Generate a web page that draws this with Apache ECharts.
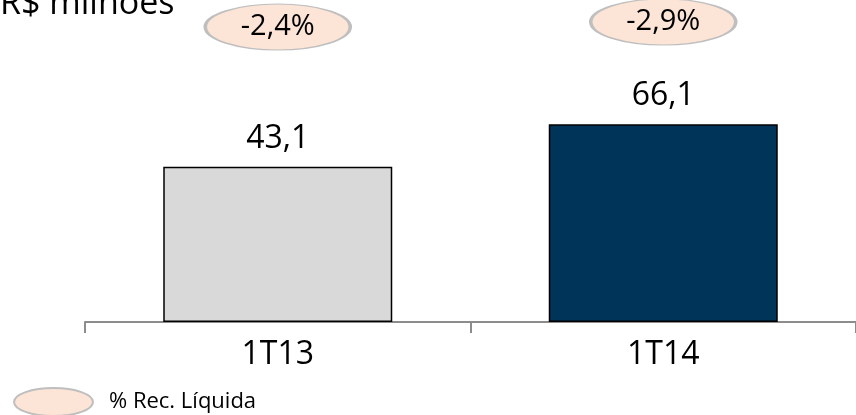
<!DOCTYPE html>
<html>
<head>
<meta charset="utf-8">
<script src="https://cdn.jsdelivr.net/npm/echarts@6/dist/echarts.min.js"></script>
<style>
  html, body { margin: 0; padding: 0; background: #fff; }
  #grafico { width: 856px; height: 415px; }
</style>
</head>
<body>
<div id="grafico"></div>
<script>
var periodos = ['1T13', '1T14'];
var valores = [43.1, 66.1];
var percRec = [-2.4, -2.9];
var corBarras = ['#D9D9D9', '#003458'];

function virgula(v, casas) {
    return v.toFixed(casas).replace('.', ',');
}

var elipse = 'path://M0,50 A100,50 0 1,1 200,50 A100,50 0 1,1 0,50 Z';
var elipseLegenda = 'path://M0,14 A39.5,14 0 1,1 79,14 A39.5,14 0 1,1 0,14 Z';
var grafico = echarts.init(document.getElementById('grafico'));

var option = {
    animation: false,
    textStyle: { fontFamily: 'Open Sans' },
    title: {
        text: 'R$ milhões',
        left: 0,
        top: -13,
        padding: 0,
        textStyle: { fontSize: 34, fontWeight: 'normal', color: '#000' }
    },
    legend: {
        left: 13,
        top: 387,
        padding: 0,
        itemWidth: 79,
        itemHeight: 28,
        icon: elipseLegenda,
        data: ['% Rec. Líquida'],
        textStyle: { fontSize: 22, color: '#000', padding: [0, 0, 0, 11] }
    },
    grid: { left: 85, right: -5, top: 0, bottom: 93 },
    xAxis: {
        type: 'category',
        data: periodos,
        axisLine: { onZero: false, lineStyle: { color: '#8c8c8c', width: 2 } },
        axisTick: { show: true, length: 11, lineStyle: { color: '#8c8c8c', width: 2 } },
        axisLabel: { fontSize: 32, color: '#000', margin: 17 }
    },
    yAxis: [{
        type: 'value',
        min: -40.5,
        max: 133,
        startValue: -40.5,
        show: false
    }, {
        type: 'value',
        min: -5.1,
        max: 27.1,
        inverse: true,
        show: false
    }],
    series: [{
        type: 'bar',
        barWidth: 229,
        data: valores.map(function (v, i) {
            return {
                value: v,
                itemStyle: { color: corBarras[i], borderColor: '#000', borderWidth: 1.5 }
            };
        }),
        label: {
            show: true,
            position: 'top',
            distance: 12,
            fontSize: 32,
            color: '#000',
            formatter: function (p) { return virgula(p.value, 1); }
        }
    }, {
        name: '% Rec. Líquida',
        type: 'scatter',
        yAxisIndex: 1,
        symbol: elipse,
        symbolSize: [145, 46],
        data: percRec,
        itemStyle: { color: '#FCE4D6', borderColor: '#BFBFBF', borderWidth: 2, opacity: 1 },
        label: {
            show: true,
            position: 'inside',
            fontSize: 29,
            color: '#000',
            formatter: function (p) { return virgula(p.value, 1) + '%'; }
        },
        z: 5
    }]
};

grafico.setOption(option);
</script>
</body>
</html>
